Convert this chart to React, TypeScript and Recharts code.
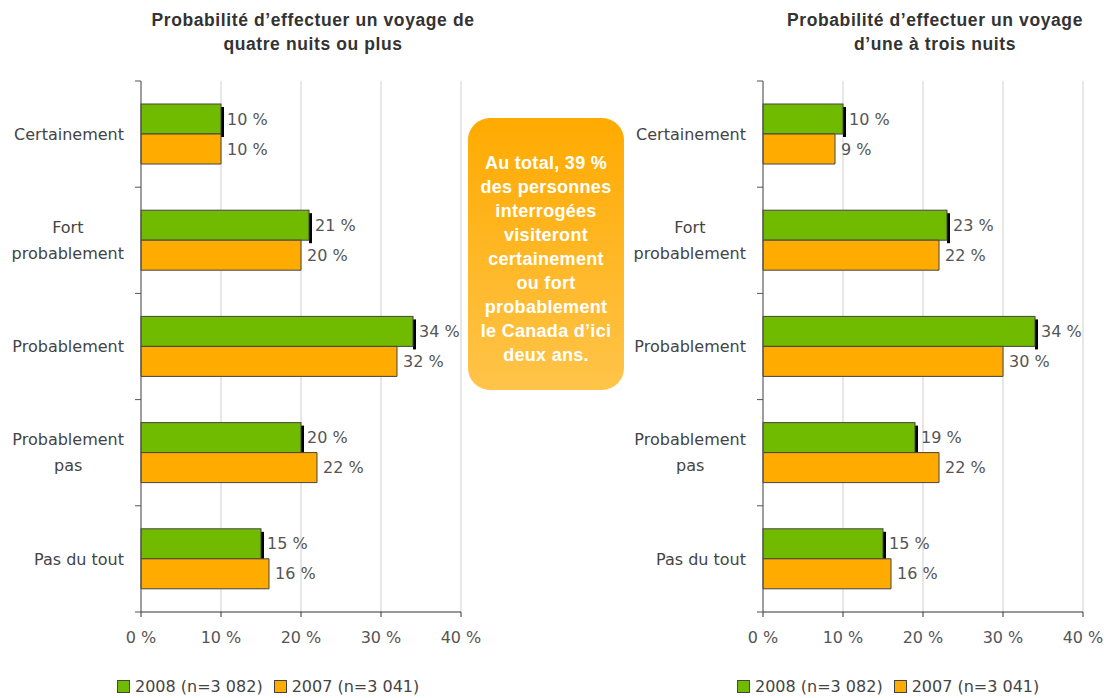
import { BarChart, Bar, XAxis, YAxis, CartesianGrid, Legend, LabelList } from 'recharts';

const categories = ['Certainement', 'Fort probablement', 'Probablement', 'Probablement pas', 'Pas du tout'];
const tickLines: Record<string, string[]> = {
  'Certainement': ['Certainement'],
  'Fort probablement': ['Fort', 'probablement'],
  'Probablement': ['Probablement'],
  'Probablement pas': ['Probablement', 'pas'],
  'Pas du tout': ['Pas du tout'],
};

// quatre nuits ou plus
const long2008 = [10, 21, 34, 20, 15];
const long2007 = [10, 20, 32, 22, 16];
// une à trois nuits
const short2008 = [10, 23, 34, 19, 15];
const short2007 = [9, 22, 30, 22, 16];

const xTicks = [0, 10, 20, 30, 40];
const seriesNames = ['2008 (n=3 082)', '2007 (n=3 041)'];
const calloutLines = [
  'Au total, 39 %',
  'des personnes',
  'interrogées',
  'visiteront',
  'certainement',
  'ou fort',
  'probablement',
  'le Canada d\u2019ici',
  'deux ans.',
];

const GREEN = '#70BA00';
const ORANGE = '#FFAB00';
const LABEL_FONT = '"DejaVu Sans", sans-serif';
const TITLE_FONT = '"Liberation Sans", Arial, sans-serif';
const BAND = 106.2;

let ctx: CanvasRenderingContext2D | null = null;
function textWidth(s: string) {
  if (!ctx) {
    ctx = document.createElement('canvas').getContext('2d');
  }
  if (!ctx) return s.length * 9;
  ctx.font = '16px "DejaVu Sans"';
  return ctx.measureText(s).width;
}

function CategoryTick(props: any) {
  const { x, y, payload, index } = props;
  const lines = tickLines[payload.value] || [payload.value];
  const axisX = x + 17;
  const maxW = Math.max(...lines.map(textWidth));
  const cx = x - maxW / 2;
  return (
    <g>
      <line x1={axisX - 6} x2={axisX} y1={y - BAND / 2} y2={y - BAND / 2} stroke="#555" />
      {index === categories.length - 1 && (
        <line x1={axisX - 6} x2={axisX} y1={y + BAND / 2} y2={y + BAND / 2} stroke="#555" />
      )}
      {lines.map((l, i) => (
        <text
          key={i}
          x={lines.length > 1 ? cx : x}
          y={y + (i - (lines.length - 1) / 2) * 26}
          dy="0.35em"
          textAnchor={lines.length > 1 ? 'middle' : 'end'}
          fill="#444"
          fontSize={16}
          fontFamily={LABEL_FONT}
        >
          {l}
        </text>
      ))}
    </g>
  );
}

function ShadowBar(props: any) {
  const { x, y, width, height, fill } = props;
  return (
    <g>
      <rect x={x + width} y={y + 3} width={3} height={height} fill="#000" />
      <rect x={x} y={y} width={width} height={height} fill={fill} stroke="#444" strokeWidth={1} />
    </g>
  );
}

function LegendContent(props: any) {
  const items = [...(props.payload || [])].sort(
    (p: any, q: any) => seriesNames.indexOf(p.value) - seriesNames.indexOf(q.value)
  );
  return (
    <div style={{ display: 'flex', alignItems: 'center', fontFamily: LABEL_FONT, fontSize: 16, color: '#444', whiteSpace: 'nowrap' }}>
      {items.map((e: any, i: number) => (
        <span key={i} style={{ display: 'flex', alignItems: 'center', marginRight: 11 }}>
          <span style={{ width: 11, height: 11, background: e.color, border: '1px solid #444', marginRight: 5 }} />
          {e.value}
        </span>
      ))}
    </div>
  );
}

function TripChart({ v2008, v2007, axisWidth }: { v2008: number[]; v2007: number[]; axisWidth: number }) {
  const data = categories.map((c, i) => ({ cat: c, a: v2008[i], b: v2007[i] }));
  return (
    <BarChart
      width={axisWidth + 320 + 29}
      height={698}
      data={data}
      layout="vertical"
      margin={{ top: 81, right: 29, bottom: 0, left: 0 }}
      barGap={0}
      barSize={30}
    >
      <CartesianGrid horizontal={false} vertical={true} stroke="#cfcfcf" />
      <XAxis
        type="number"
        domain={[0, 40]}
        ticks={xTicks}
        tickFormatter={(v) => `${v} %`}
        height={86}
        stroke="#333"
        tickSize={5}
        tickMargin={15}
        tick={{ fill: '#555', fontSize: 16, fontFamily: LABEL_FONT }}
      />
      <YAxis
        type="category"
        dataKey="cat"
        width={axisWidth}
        stroke="#555"
        tickLine={false}
        tickSize={0}
        tickMargin={17}
        tick={<CategoryTick />}
      />
      <Legend
        layout="horizontal"
        verticalAlign="middle"
        align="center"
        wrapperStyle={{ top: 677, left: 117, width: 'auto' }}
        content={<LegendContent />}
      />
      <Bar dataKey="a" name={seriesNames[0]} fill={GREEN} shape={<ShadowBar />} isAnimationActive={false}>
        <LabelList
          dataKey="a"
          position="right"
          offset={6}
          formatter={(v: any) => `${v} %`}
          style={{ fill: '#555', fontSize: 16, fontFamily: LABEL_FONT }}
        />
      </Bar>
      <Bar dataKey="b" name={seriesNames[1]} fill={ORANGE} stroke="#444" strokeWidth={1} isAnimationActive={false}>
        <LabelList
          dataKey="b"
          position="right"
          offset={6}
          formatter={(v: any) => `${v} %`}
          style={{ fill: '#555', fontSize: 16, fontFamily: LABEL_FONT }}
        />
      </Bar>
    </BarChart>
  );
}

const titleStyle: React.CSSProperties = {
  position: 'absolute',
  top: 8,
  fontFamily: TITLE_FONT,
  fontWeight: 'bold',
  fontSize: 17.5,
  letterSpacing: 0.6,
  lineHeight: '24px',
  color: '#333',
  textAlign: 'center',
  width: 400,
};

export default function App() {
  return (
    <div style={{ position: 'absolute', left: 0, top: 0, width: 1112, height: 698, background: '#fff', overflow: 'hidden' }}>
      <div style={{ ...titleStyle, left: 313 - 200 }}>
        Probabilité d’effectuer un voyage de<br />quatre nuits ou plus
      </div>
      <div style={{ ...titleStyle, left: 935 - 200 }}>
        Probabilité d’effectuer un voyage<br />d’une à trois nuits
      </div>
      <div style={{ position: 'absolute', left: 0, top: 0 }}>
        <TripChart v2008={long2008} v2007={long2007} axisWidth={141} />
      </div>
      <div style={{ position: 'absolute', left: 620, top: 0 }}>
        <TripChart v2008={short2008} v2007={short2007} axisWidth={143} />
      </div>
      <div
        style={{
          position: 'absolute',
          left: 468,
          top: 118,
          width: 156,
          height: 272,
          borderRadius: 22,
          background: 'linear-gradient(180deg, #FFAA00 0%, #FFC44A 100%)',
          color: '#fff',
          fontFamily: TITLE_FONT,
          fontWeight: 'bold',
          fontSize: 18,
          letterSpacing: 0.3,
          lineHeight: '24px',
          textAlign: 'center',
          paddingTop: 33,
          boxSizing: 'border-box',
          whiteSpace: 'nowrap',
        }}
      >
        {calloutLines.map((l, i) => (
          <div key={i}>{l}</div>
        ))}
      </div>
    </div>
  );
}
